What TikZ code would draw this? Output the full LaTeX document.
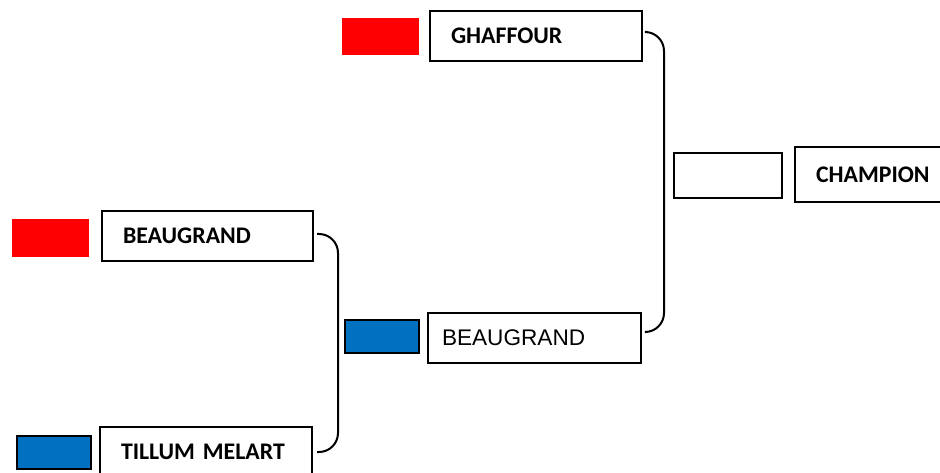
\documentclass[tikz,border=0pt]{standalone}
\usepackage{fontspec}
\setmainfont{Carlito}
\newfontfamily\arialfont{Liberation Sans}
\definecolor{tred}{HTML}{FF0000}
\definecolor{tblue}{HTML}{0070C0}
\tikzset{
  namebox/.style={draw=black, line width=2pt, fill=white, rectangle, inner ysep=0pt,
    align=left, font=\bfseries\fontsize{23.8}{26}\selectfont},
  redtag/.style={fill=tred, draw=none, rectangle, inner sep=0pt},
  bluetag/.style={fill=tblue, draw=black, line width=2pt, rectangle, inner sep=0pt},
  emptybox/.style={draw=black, line width=2pt, fill=white, rectangle, inner sep=0pt},
  link/.style={draw=black, line width=2pt, rounded corners=19pt},
}
\begin{document}
\begin{tikzpicture}[x=1pt,y=-1pt]
\useasboundingbox (0,0) rectangle (940,473);
\clip (0,0) rectangle (940,473);
% top seed
\node[redtag, minimum width=77pt, minimum height=37pt] (r1) at (380.5,36.5) {};
\node[namebox, inner xsep=21pt, text width=170pt, minimum height=50pt] (g) at (536,36) {\raisebox{-1.5pt}{GHAFFOUR}};
% left pair
\node[redtag, minimum width=77pt, minimum height=38pt] (r2) at (50.5,238) {};
\node[namebox, inner xsep=21pt, text width=169pt, minimum height=50pt] (lb) at (207.5,236) {\raisebox{-1.5pt}{BEAUGRAND}};
\node[bluetag, minimum width=74pt, minimum height=33pt] (b1) at (54,452.5) {};
\node[namebox, inner xsep=21pt, text width=170pt, minimum height=50pt] (t) at (206,452) {TILLUM MELART};
% middle winner
\node[bluetag, minimum width=74pt, minimum height=33pt] (b2) at (382,336.5) {};
\node[namebox, inner xsep=14pt, text width=185pt, minimum height=50pt, font=\arialfont\fontsize{22.6}{26}\selectfont] (m) at (534.5,338) {BEAUGRAND};
% champion
\node[emptybox, minimum width=108pt, minimum height=45pt] (c0) at (728,175.5) {};
\node[namebox, inner xsep=21pt, text width=182pt, minimum height=55pt, anchor=west] (ch) at (794,174.5) {CHAMPION};
% brackets
\coordinate (j1) at (664,190);
\coordinate (j2) at (338,340);
\draw[link] ([xshift=4pt,yshift=4pt]g.east) -| (j1) |- ([xshift=4pt,yshift=6pt]m.east);
\draw[link] ([xshift=3pt,yshift=2pt]lb.east) -| (j2) |- ([xshift=4pt]t.east);
\end{tikzpicture}
\end{document}
